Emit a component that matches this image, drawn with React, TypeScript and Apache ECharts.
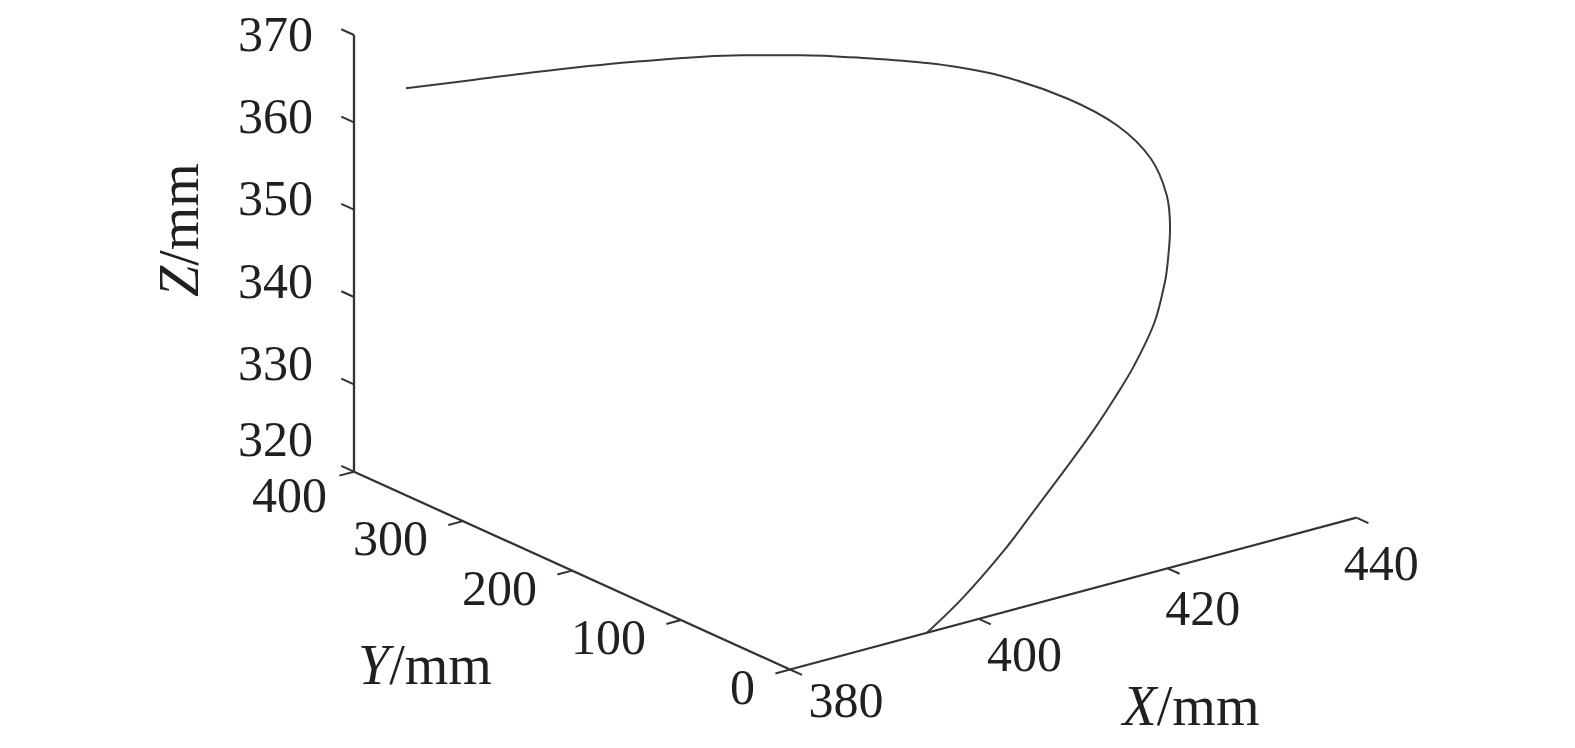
import React, { useEffect, useRef } from "react";
import * as echarts from "echarts";

// ---- data (mm) ----
const X_TICKS = [380, 400, 420, 440];
const Y_TICKS = [0, 100, 200, 300, 400];
const Z_TICKS = [320, 330, 340, 350, 360, 370];
const X_RANGE = [380, 440];
const Y_RANGE = [0, 400];
const Z_RANGE = [320, 370];

const curveX = [385.5, 390.3, 395.0, 402.1, 409.3, 413.6, 418.2, 423.0, 427.7, 432.4, 435.6, 437.5, 437.8, 437.0, 435.6, 434.6, 432.0, 428.2, 424.7, 421.3, 417.0, 412.1, 406.6, 400.2, 394.5];
const curveY = [400, 380, 359, 329, 299, 281, 260, 240, 220, 199, 181, 167, 155, 145, 135, 129, 116, 102, 90, 79, 66, 51, 34, 16, 0];
const curveZ = [362.3, 363.0, 363.8, 364.6, 364.9, 364.7, 364.2, 363.3, 361.7, 358.9, 355.9, 352.4, 348.8, 345.7, 342.9, 341.2, 338.1, 335.0, 332.9, 331.0, 328.8, 326.5, 324.0, 321.5, 320.0];

// ---- view (oblique projection of the 3-D box onto the plane) ----
const W = 1575;
const H = 748;
const ORIGIN = [790, 669.5];
const EX = [9.44, -2.53];
const EY = [-1.09, -0.4945];
const EZ = [0, -8.734];

function project(x: number, y: number, z: number): number[] {
  const dx = x - X_RANGE[0];
  const dy = y - Y_RANGE[0];
  const dz = z - Z_RANGE[0];
  return [
    ORIGIN[0] + dx * EX[0] + dy * EY[0] + dz * EZ[0],
    ORIGIN[1] + dx * EX[1] + dy * EY[1] + dz * EZ[1],
  ];
}

const FONT = "'Liberation Serif', 'Times New Roman', serif";
const TEXT_COLOR = "#231f20";
const LINE_COLOR = "#333333";
const FS = 50;
const TITLE_FS = 56;

export default function App() {
  const ref = useRef<HTMLDivElement>(null);

  useEffect(() => {
    if (!ref.current) return;
    const chart = echarts.init(ref.current, undefined, { renderer: "svg" });

    const xMin = X_RANGE[0], xMax = X_RANGE[1];
    const yMin = Y_RANGE[0], yMax = Y_RANGE[1];
    const zMin = Z_RANGE[0], zMax = Z_RANGE[1];

    const axisPath = [
      project(xMin, yMax, zMax),
      project(xMin, yMax, zMin),
      project(xMin, yMin, zMin),
      project(xMax, yMin, zMin),
    ];

    const curve = curveX.map((x, i) => project(x, curveY[i], curveZ[i]));

    // tick data: [axisIndex, value]
    const tickData: number[][] = [];
    Z_TICKS.forEach((v) => tickData.push([2, v]));
    Y_TICKS.forEach((v) => tickData.push([1, v]));
    X_TICKS.forEach((v) => tickData.push([0, v]));

    const tickEnds = (axis: number, v: number) => {
      if (axis === 2) return [project(xMin, yMax, v), project(xMin, yMax + 11.7, v)];
      if (axis === 1) return [project(xMin, v, zMin), project(xMin - 1.55, v, zMin)];
      return [project(v, yMin, zMin), project(v, yMin - 11, zMin)];
    };

    const labelPos = (axis: number, v: number) => {
      if (axis === 2) {
        const p = project(xMin, yMax, v);
        const nudge = v === zMin ? -6 : 0;
        return { x: p[0] - 41, y: p[1] - 1 - 0.514 * (zMax - v) + nudge, align: "right" };
      }
      if (axis === 1) {
        const p = project(xMin, v, zMin);
        const corner = v === yMax;
        return { x: p[0] - (corner ? 27 : 35), y: p[1] + (corner ? 23 : 17), align: "right" };
      }
      const p = project(v, yMin, zMin);
      return {
        x: p[0] + 56 - 0.52 * (v - xMin),
        y: p[1] + 30 + 0.25 * (v - xMin),
        align: "center",
      };
    };

    const title = (txt: string, x: number, y: number, rotation = 0) => ({
      type: "text",
      x,
      y,
      rotation,
      style: {
        text: "{i|" + txt + "}/mm",
        fontSize: TITLE_FS,
        fontFamily: FONT,
        fill: TEXT_COLOR,
        align: "center",
        verticalAlign: "middle",
        rich: { i: { fontStyle: "italic", fontSize: TITLE_FS, fontFamily: FONT, fill: TEXT_COLOR } },
      },
    });

    const option: any = {
      animation: false,
      backgroundColor: "#ffffff",
      grid: { left: 0, right: 0, top: 0, bottom: 0 },
      xAxis: { type: "value", min: 0, max: W, show: false },
      yAxis: { type: "value", min: 0, max: H, inverse: true, show: false },
      series: [
        {
          type: "line",
          data: axisPath,
          showSymbol: false,
          silent: true,
          lineStyle: { color: LINE_COLOR, width: 2.3 },
          z: 2,
        },
        {
          type: "line",
          data: curve,
          showSymbol: false,
          smooth: 0.35,
          silent: true,
          lineStyle: { color: "#3a3a3a", width: 2 },
          z: 3,
        },
        {
          type: "custom",
          data: tickData,
          silent: true,
          z: 2,
          renderItem: (params: any, api: any) => {
            const axis = api.value(0);
            const v = api.value(1);
            const [a, b] = tickEnds(axis, v);
            const p1 = api.coord(a);
            const p2 = api.coord(b);
            return {
              type: "line",
              shape: { x1: p1[0], y1: p1[1], x2: p2[0], y2: p2[1] },
              style: { stroke: LINE_COLOR, lineWidth: 2 },
            };
          },
        },
        {
          type: "custom",
          data: tickData,
          silent: true,
          z: 4,
          renderItem: (params: any, api: any) => {
            const axis = api.value(0);
            const v = api.value(1);
            const lp = labelPos(axis, v);
            const c = api.coord([lp.x, lp.y]);
            return {
              type: "text",
              x: c[0],
              y: c[1],
              style: {
                text: String(v),
                fontSize: FS,
                fontFamily: FONT,
                fill: TEXT_COLOR,
                align: lp.align,
                verticalAlign: "middle",
              },
            };
          },
        },
      ],
      graphic: [
        title("Z", 179, 230, Math.PI / 2),
        title("Y", 425, 665),
        title("X", 1191, 706),
      ],
    };

    chart.setOption(option);
    return () => chart.dispose();
  }, []);

  return (
    <div
      ref={ref}
      style={{ position: "fixed", left: 0, top: 0, width: W, height: H, background: "#fff" }}
    />
  );
}
